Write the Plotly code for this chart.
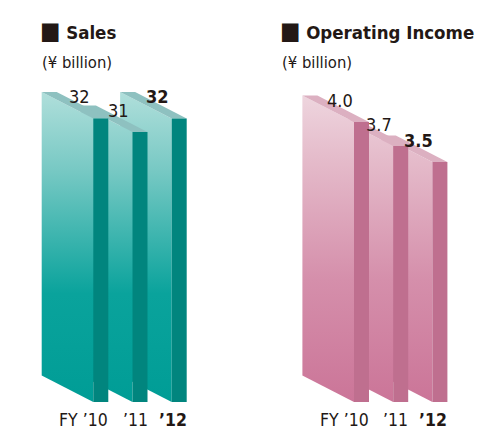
import plotly.graph_objects as go

# ---------------- data ----------------
years = ["FY \u201910", "\u201911", "\u201912"]
sales = [32, 31, 32]
sales_labels = ["32", "31", "32"]
op_income = [4.0, 3.7, 3.5]
op_labels = ["4.0", "3.7", "3.5"]

# ---------------- style / geometry ----------------
W, H = 482, 437
FONT = "DejaVu Sans Condensed, DejaVu Sans, sans-serif"
TXT = "#231815"
STEP = 39.2          # px per category slot
FACE_W = 15.0        # px width of front face
DEPTH_DX = 51.6      # px depth offset (to the left)
DEPTH_DY = 26.5      # px depth offset (upwards)
BOTTOM_PX = 402.0    # pixel row of the bars' front bottom

panels = [
    dict(vals=sales, labels=sales_labels, first_px=93.3, dom=(0, 241), k=13.7, base=11.3,
         side=[[0, "#009d96"], [0.35, "#0aa39c"], [0.75, "#78c9c4"], [1, "#b0dfdb"]],
         front="#01857e", top="#8ec1c0", xa="x", ya="y",
         title="Sales", title_px=38),
    dict(vals=op_income, labels=op_labels, first_px=354.0, dom=(241, 482), k=80.0, base=0.5,
         side=[[0, "#cb7598"], [0.4, "#d58fab"], [0.8, "#e5bccb"], [1, "#eed5de"]],
         front="#bf6f8f", top="#dcb0c1", xa="x2", ya="y2",
         title="Operating Income", title_px=278),
]

fig = go.Figure()
annotations = []

for p in panels:
    k, base = p["k"], p["base"]
    w = FACE_W / STEP
    dxu = DEPTH_DX / STEP
    dyv = DEPTH_DY / k
    top_val = max(p["vals"]) + dyv
    n = len(p["vals"])
    # draw back bars first so the left bar sits in front
    for i in reversed(range(n)):
        v = p["vals"][i]
        u0 = i
        # side (gradient) face
        fig.add_trace(go.Scatter(
            x=[u0 - dxu, u0 - dxu, u0, u0, u0 - dxu],
            y=[base + dyv, v + dyv, v, base, base + dyv],
            fill="toself", mode="lines", line=dict(width=0),
            fillcolor=p["side"][1][1],
            fillgradient=dict(type="vertical", colorscale=p["side"], start=base, stop=top_val),
            xaxis=p["xa"], yaxis=p["ya"], hoverinfo="skip", showlegend=False))
        # top face
        fig.add_trace(go.Scatter(
            x=[u0, u0 - dxu, u0 - dxu + w, u0 + w, u0],
            y=[v, v + dyv, v + dyv, v, v],
            fill="toself", mode="lines", line=dict(width=0), fillcolor=p["top"],
            xaxis=p["xa"], yaxis=p["ya"], hoverinfo="skip", showlegend=False))
        # front face
        fig.add_trace(go.Scatter(
            x=[u0, u0, u0 + w, u0 + w, u0],
            y=[base, v, v, base, base],
            fill="toself", mode="lines", line=dict(width=0), fillcolor=p["front"],
            xaxis=p["xa"], yaxis=p["ya"], hoverinfo="skip", showlegend=False))
    for i in range(n):
        bold = i == n - 1
        annotations.append(dict(
            x=i, y=p["vals"][i], xref=p["xa"], yref=p["ya"],
            text=("<b>%s</b>" % p["labels"][i]) if bold else p["labels"][i],
            showarrow=False, xanchor="center", yanchor="middle",
            xshift=-14, yshift=22, font=dict(family=FONT, size=18, color=TXT)))
        annotations.append(dict(
            x=i + w, y=base, xref=p["xa"], yref=p["ya"],
            text=("<b>%s</b>" % years[i]) if bold else years[i],
            showarrow=False, xanchor="right", yanchor="middle",
            xshift=2, yshift=-18, font=dict(family=FONT, size=17.5, color=TXT)))
    # titles
    annotations.append(dict(
        x=p["title_px"] / W, y=1 - 31 / H, xref="paper", yref="paper",
        text="<span style='font-size:24px'>\u25a0</span><b> %s</b>" % p["title"],
        showarrow=False, xanchor="left", yanchor="middle",
        font=dict(family=FONT, size=18.5, color=TXT)))
    annotations.append(dict(
        x=(p["title_px"] + 2) / W, y=1 - 63 / H, xref="paper", yref="paper",
        text="(\u00a5 billion)", showarrow=False, xanchor="left", yanchor="middle",
        font=dict(family=FONT, size=16.5, color=TXT)))

layout_axes = {}
for idx, p in enumerate(panels):
    sfx = "" if idx == 0 else str(idx + 1)
    d0, d1 = p["dom"]
    xr = [(d0 - p["first_px"]) / STEP, (d1 - p["first_px"]) / STEP]
    yr = [p["base"] + (BOTTOM_PX - H) / p["k"], p["base"] + BOTTOM_PX / p["k"]]
    layout_axes["xaxis" + sfx] = dict(domain=[d0 / W, d1 / W], range=xr, visible=False,
                                      fixedrange=True, anchor="y" + sfx)
    layout_axes["yaxis" + sfx] = dict(domain=[0, 1], range=yr, visible=False,
                                      fixedrange=True, anchor="x" + sfx)

fig.update_layout(
    width=W, height=H, margin=dict(l=0, r=0, t=0, b=0),
    paper_bgcolor="white", plot_bgcolor="white",
    annotations=annotations, showlegend=False, **layout_axes)

fig.write_html("out.html", config={"displayModeBar": False},
               post_script="document.body.style.margin='0';")
